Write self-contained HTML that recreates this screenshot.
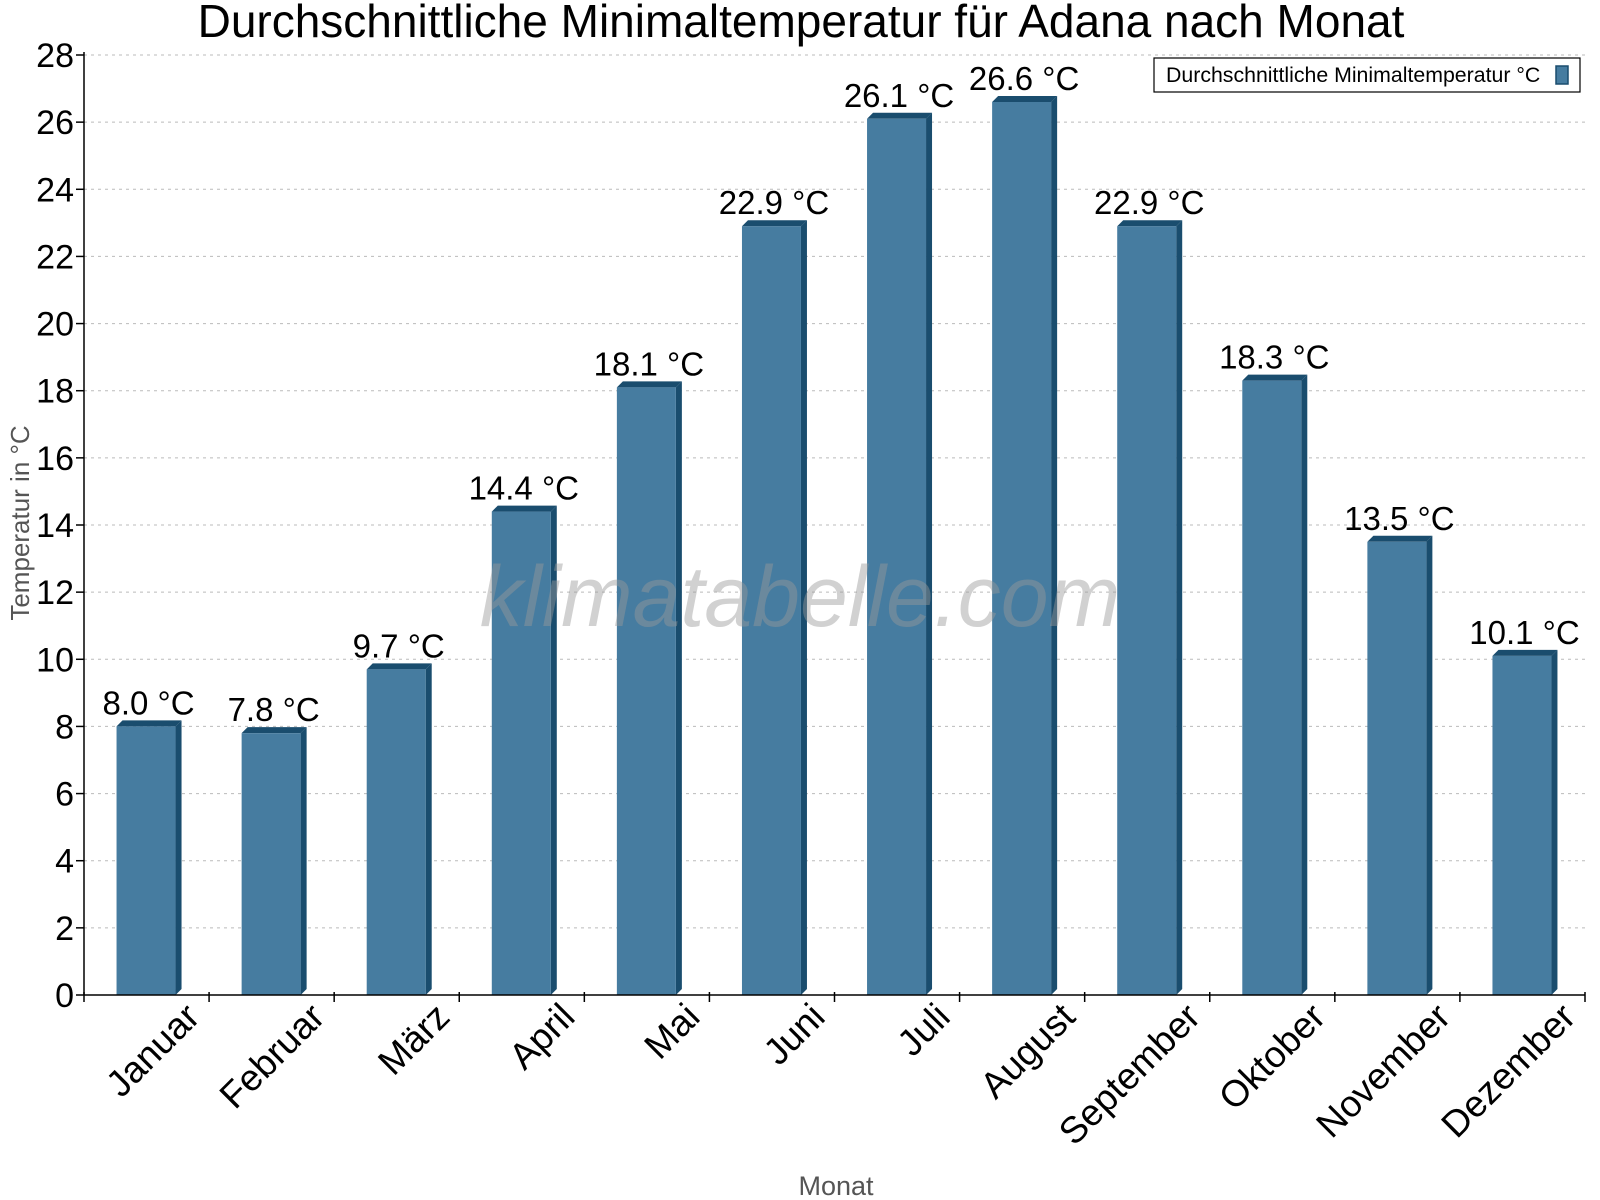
<!DOCTYPE html>
<html><head><meta charset="utf-8"><style>
body{margin:0;background:#fff}
svg{display:block;font-family:"Liberation Sans",sans-serif}
</style></head><body>
<svg id="c" width="1600" height="1200" viewBox="0 0 1600 1200">
<text x="801" y="37" text-anchor="middle" font-size="46" fill="#000">Durchschnittliche Minimaltemperatur für Adana nach Monat</text>
<g id="grid"></g>
<g id="bars"></g>
<text x="800" y="626" text-anchor="middle" font-size="86" font-style="italic" fill="#999" fill-opacity="0.45">klimatabelle.com</text>
<g id="labels"></g>
<g id="axes"></g>
<text transform="translate(29,523) rotate(-90)" text-anchor="middle" font-size="26" fill="#555">Temperatur in °C</text>
<text x="836" y="1195" text-anchor="middle" font-size="27" fill="#555">Monat</text>
<g>
<rect x="1154" y="58" width="426" height="34" fill="#fff" stroke="#000" stroke-width="1.2"/>
<text x="1166" y="82" font-size="21.3" fill="#000">Durchschnittliche Minimaltemperatur °C</text>
<rect x="1556" y="66" width="12" height="18" fill="#467ca0" stroke="#1a4d6e" stroke-width="1.5"/>
</g>
</svg>
<script>
const categories=["Januar","Februar","März","April","Mai","Juni","Juli","August","September","Oktober","November","Dezember"];
const values=[8.0,7.8,9.7,14.4,18.1,22.9,26.1,26.6,22.9,18.3,13.5,10.1];
const yTicks=[0,2,4,6,8,10,12,14,16,18,20,22,24,26,28];
const X0=84,X1=1585,Y0=995,Y28=55,YMAX=28;
const ns="http://www.w3.org/2000/svg";
function y(v){return Y0-(v/YMAX)*(Y0-Y28);}
const bw=(X1-X0)/categories.length;
function xc(i){return X0+bw*(i+0.5);}
function mk(tag,attrs,parent,txt){const e=document.createElementNS(ns,tag);for(const k in attrs)e.setAttribute(k,attrs[k]);if(txt!==undefined)e.textContent=txt;parent.appendChild(e);return e;}
const grid=document.getElementById('grid'),bars=document.getElementById('bars'),axes=document.getElementById('axes'),labels=document.getElementById('labels');
yTicks.forEach(t=>{
  if(t>0){const g=mk('line',{x1:X0,x2:X1,y1:y(t),y2:y(t),stroke:'#bbb','stroke-dasharray':'3,4','stroke-width':1},grid);
  
  }
  const tk=mk('line',{x1:X0-8,x2:X0,y1:y(t),y2:y(t),stroke:'#000','stroke-width':1.5},axes);
  
  
  const l=mk('text',{x:X0-10,y:y(t)+12,'text-anchor':'end','font-size':34,fill:'#000'},axes,String(t));
  
  
});
const d=6;
values.forEach((v,i)=>{
  const c=xc(i),l=c-30,r=c+29,top=y(v);
  const g=mk('g',{},bars);
  
  
  mk('polygon',{points:`${r},${Y0} ${r},${top} ${r+d},${top-d} ${r+d},${Y0-d} ${r},${Y0}`,fill:'#1a4d6e'},g);
  mk('polygon',{points:`${l},${top} ${l+d},${top-d} ${r+d},${top-d} ${r},${top}`,fill:'#1a4d6e'},g);
  mk('rect',{x:l,y:top,width:r-l,height:Y0-top,fill:'#467ca0'},g);
  const t=mk('text',{x:c+2,y:top-12,'text-anchor':'middle','font-size':33,fill:'#000'},labels,v.toFixed(1)+' °C');
  
  
  const xl=mk('text',{transform:`translate(${c+55},${Y0+24}) rotate(-45)`,'text-anchor':'end','font-size':37,fill:'#000'},axes,categories[i]);
  
  
});
for(let i=0;i<=categories.length;i++){
  const x=X0+bw*i;
  const tk=mk('line',{x1:x,x2:x,y1:Y0-3,y2:Y0+7,stroke:'#000','stroke-width':1.5},axes);
  
  
}
const ya=mk('line',{x1:X0,x2:X0,y1:Y28-3,y2:Y0,stroke:'#000','stroke-width':1.5},axes);


const xa=mk('line',{x1:X0,x2:X1,y1:Y0,y2:Y0,stroke:'#000','stroke-width':1.5},axes);


</script>
</body></html>
